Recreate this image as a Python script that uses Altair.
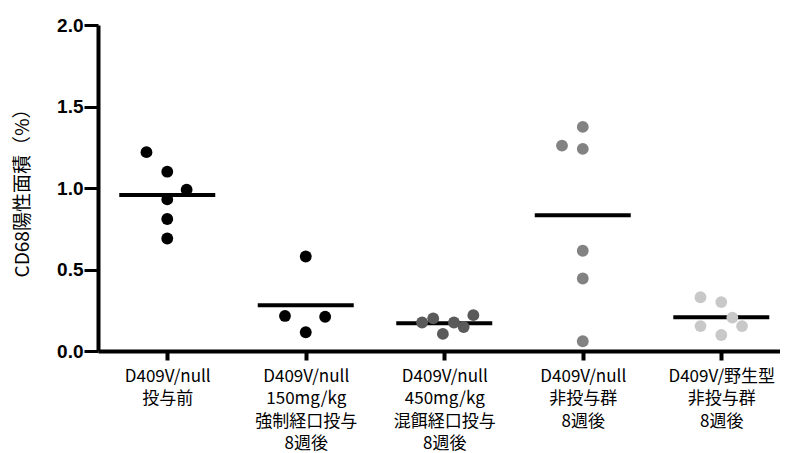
import json
import altair as alt
import pandas as pd

# ---- data ----
group_labels = [
    "D409V/null\n投与前",
    "D409V/null\n150mg/kg\n強制経口投与\n8週後",
    "D409V/null\n450mg/kg\n混餌経口投与\n8週後",
    "D409V/null\n非投与群\n8週後",
    "D409V/野生型\n非投与群\n8週後",
]
vals_g1 = [1.22, 1.10, 0.99, 0.93, 0.81, 0.69]
vals_g2 = [0.58, 0.215, 0.21, 0.115]
vals_g3 = [0.175, 0.20, 0.105, 0.175, 0.147, 0.22]
vals_g4 = [1.375, 1.26, 1.24, 0.615, 0.445, 0.06]
vals_g5 = [0.33, 0.30, 0.205, 0.153, 0.153, 0.098]

jit_g1 = [-0.15, 0.0, 0.14, 0.0, 0.0, 0.0]
jit_g2 = [0.0, -0.15, 0.14, 0.0]
jit_g3 = [-0.16, -0.08, -0.01, 0.07, 0.14, 0.21]
jit_g4 = [0.0, -0.15, 0.0, 0.0, 0.0, 0.0]
jit_g5 = [-0.15, 0.0, 0.08, -0.15, 0.15, 0.0]

point_colors = ["#000000", "#000000", "#5a5a5a", "#828282", "#c8c8c8"]
y_ticks = [0.0, 0.5, 1.0, 1.5, 2.0]

all_vals = [vals_g1, vals_g2, vals_g3, vals_g4, vals_g5]
all_jit = [jit_g1, jit_g2, jit_g3, jit_g4, jit_g5]

rows = []
for i, (vs, js) in enumerate(zip(all_vals, all_jit)):
    for v, j in zip(vs, js):
        rows.append({"idx": i, "xpos": i + j, "value": v})
df = pd.DataFrame(rows)

label_expr = "split(" + json.dumps(group_labels, ensure_ascii=False) + "[datum.value], '\\n')"

xscale = alt.Scale(domain=[-0.5, 4.424], nice=False, zero=False)
yscale = alt.Scale(domain=[0, 2], nice=False)

xaxis = alt.Axis(
    values=[0, 1, 2, 3, 4],
    labelExpr=label_expr,
    grid=False,
    domain=True,
    tickSize=9,
    tickWidth=4,
    domainWidth=4,
    domainColor="black",
    tickColor="black",
    labelFont="Noto Sans CJK JP",
    labelFontSize=17,
    labelLineHeight=22.5,
    labelColor="black",
    labelPadding=8,
    labelBaseline="top",
    labelOverlap=False,
)

yaxis = alt.Axis(
    values=y_ticks,
    format=".1f",
    grid=False,
    domain=True,
    tickSize=14,
    tickWidth=3,
    domainWidth=4,
    domainColor="black",
    tickColor="black",
    labelFont="Liberation Sans",
    labelFontWeight="bold",
    labelFontSize=19,
    labelColor="black",
    labelPadding=1,
    title="CD68陽性面積（%）",
    titleFont="Noto Sans CJK JP",
    titleFontSize=19,
    titleFontWeight="normal",
    titleColor="black",
    titlePadding=24,
)

base = alt.Chart(df)

means = base.mark_tick(orient="horizontal", size=96, thickness=4, color="black").encode(
    x=alt.X("idx:Q", scale=xscale, axis=xaxis, title=None),
    y=alt.Y("mean(value):Q", scale=yscale, axis=yaxis),
)

points = base.mark_circle(size=140, opacity=1).encode(
    x=alt.X("xpos:Q", scale=xscale, axis=xaxis, title=None),
    y=alt.Y("value:Q", scale=yscale, axis=yaxis),
    color=alt.Color("idx:O", scale=alt.Scale(domain=[0, 1, 2, 3, 4], range=point_colors), legend=None),
)

chart = (
    alt.layer(means, points)
    .properties(width=682, height=326, background="white",
                view=alt.ViewBackground(stroke="transparent", strokeWidth=0),
                padding={"left": 5, "top": 8, "right": 0, "bottom": 0})
    .configure_view(stroke="transparent", strokeWidth=0)
    .configure_axis(domainColor="black", domainWidth=4, tickColor="black", grid=False)
)

try:
    chart.config.style = {"cell": {"stroke": "transparent", "strokeWidth": 0}}
    chart.to_dict()
except Exception:
    chart.config.style = alt.Undefined

chart.save("out.html", embed_options={"renderer": "svg", "actions": False})
